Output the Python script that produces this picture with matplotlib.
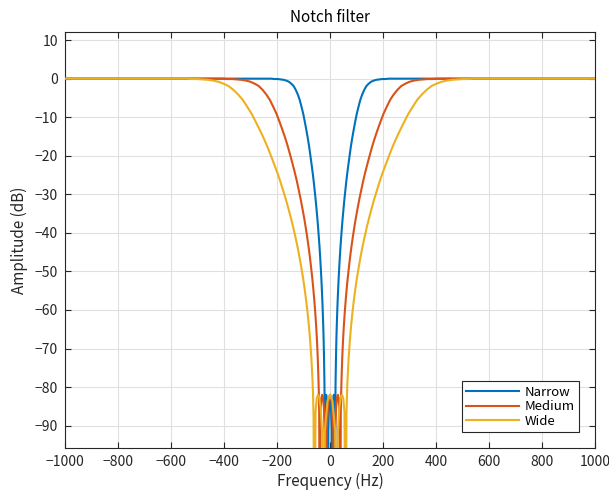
import numpy as np
import matplotlib
matplotlib.use('Agg')
import matplotlib.pyplot as plt

plt.rcParams['font.family'] = ['Noto Sans CJK JP', 'DejaVu Sans']
plt.rcParams['axes.unicode_minus'] = True

# Amplitude (dB) at the sample points, same normalized shape for every filter
# (positive-frequency half; the response is symmetric about 0 Hz)
gain_db = [-82.0, -83.7, -91.2, -130.0, -92.7, -85.2, -82.4, -82.0, -82.9, -86.4, -130.0, -87.1,
           -82.0, -78.4, -72.6, -68.1, -64.2, -60.7, -57.5, -54.5, -51.6, -48.9, -46.2, -43.6,
           -41.1, -38.6, -36.2, -33.8, -31.4, -29.1, -26.7, -24.4, -22.2, -19.9, -17.6, -15.4,
           -13.3, -11.2, -9.1, -7.3, -5.5, -4.1, -2.9, -1.9, -1.3, -0.8, -0.5, -0.3, -0.2, -0.1,
           -0.1, -0.0, -0.0, 0.0]

freq_narrow = [0.0, 3.1, 6.2, 7.8, 9.2, 11.3, 13.3, 14.5, 16.0, 17.4, 18.9, 19.9, 20.5, 21.1,
               22.5, 23.9, 25.5, 27.2, 28.9, 30.8, 32.8, 34.9, 37.2, 39.6, 42.2, 44.9, 47.8,
               50.9, 54.2, 57.7, 61.4, 65.4, 69.6, 74.1, 78.8, 83.9, 89.3, 95.0, 101.1, 107.5,
               114.4, 121.6, 129.3, 137.5, 146.1, 155.2, 164.9, 175.1, 185.8, 197.2, 209.1,
               221.7, 234.8, 1000.0]
freq_medium = [0.0, 6.3, 12.6, 16.1, 18.9, 23.1, 27.3, 29.7, 32.8, 35.7, 38.8, 40.7, 42.0, 43.3,
               46.1, 49.0, 52.2, 55.6, 59.2, 63.0, 67.1, 71.4, 76.0, 80.9, 86.1, 91.6, 97.4,
               103.7, 110.3, 117.3, 124.7, 132.6, 140.9, 149.8, 159.1, 169.0, 179.4, 190.4,
               202.0, 214.2, 227.0, 240.4, 254.5, 269.1, 284.4, 300.4, 316.9, 334.0, 351.6,
               369.8, 388.4, 407.4, 426.8, 1000.0]
freq_wide = [0.0, 9.6, 19.3, 24.6, 28.9, 35.3, 41.7, 45.3, 50.0, 54.5, 59.2, 62.1, 64.0, 65.9,
             70.2, 74.7, 79.5, 84.6, 90.0, 95.8, 101.9, 108.4, 115.3, 122.6, 130.4, 138.6,
             147.3, 156.5, 166.2, 176.5, 187.3, 198.7, 210.7, 223.3, 236.6, 250.5, 265.0,
             280.1, 295.9, 312.2, 329.2, 346.7, 364.7, 383.2, 402.1, 421.3, 440.9, 460.7,
             480.6, 500.7, 520.7, 540.6, 560.4, 1000.0]

series_names = ['Narrow', 'Medium', 'Wide']
series_freqs = [freq_narrow, freq_medium, freq_wide]
colors = ['#0072BD', '#D95319', '#EDB120']

xticks = list(range(-1000, 1001, 200))
yticks = list(range(-90, 11, 10))

fig = plt.figure(figsize=(6.09, 4.91), dpi=100)
ax = fig.add_axes([65 / 609, 1 - 448 / 491, 530 / 609, 416 / 491])

g = np.array(gain_db)
for name, fr, c in zip(series_names, series_freqs, colors):
    f = np.array(fr)
    ff = np.concatenate([-f[::-1], f[1:]])
    dd = np.concatenate([g[::-1], g[1:]])
    ax.plot(ff, dd, color=c, lw=1.5, label=name, zorder=3)

ax.set_xlim(-1000, 1000)
ax.set_ylim(-95.8, 12.1)
ax.set_xticks(xticks)
ax.set_yticks(yticks)
ax.grid(True, color='#e0e0e0', lw=0.8)
ax.set_axisbelow(True)
ax.tick_params(direction='in', top=True, right=True, length=4, width=0.8,
               labelsize=10, colors='#262626', pad=5)
for s in ax.spines.values():
    s.set_color('#262626')
    s.set_linewidth(0.8)

ax.set_title('Notch filter', fontsize=11, color='#000000', pad=7)
ax.set_xlabel('Frequency (Hz)', fontsize=11, color='#262626', labelpad=2.5)
ax.set_ylabel('Amplitude (dB)', fontsize=11, color='#262626', labelpad=5)

leg = ax.legend(loc='lower right', fontsize=9.5, handlelength=4.0, frameon=True,
                fancybox=False, framealpha=1, edgecolor='#262626',
                borderaxespad=1.2, labelspacing=0.1, handletextpad=0.4,
                borderpad=0.35)
leg.get_frame().set_linewidth(0.8)

fig.savefig('out.png', dpi=100)
